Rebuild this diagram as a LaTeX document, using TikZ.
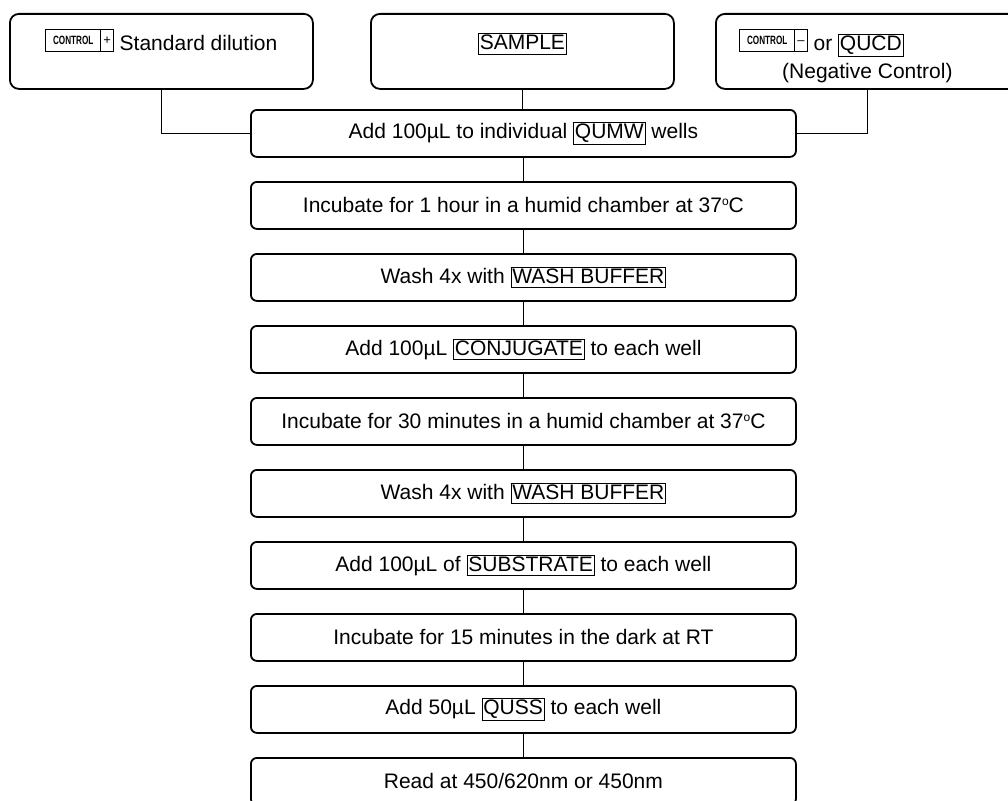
\documentclass[tikz,border=0pt]{standalone}
\usepackage{fontspec}
\setmainfont{Liberation Sans}
\usepackage{graphicx}
\newcommand\kbox[1]{{\fboxsep=1pt\fboxrule=0.8pt\fbox{\rule[-3pt]{0pt}{17pt}#1}}}
\newcommand\ctrlsign[1]{{\fboxsep=0pt\fboxrule=0.8pt\fbox{\makebox[54pt]{\rule{0pt}{21pt}\raisebox{6pt}{\fontsize{12}{12}\selectfont\bfseries\scalebox{0.68}[1]{CONTROL}}}\vrule width 0.8pt\makebox[12pt]{\raisebox{6pt}{\fontsize{13}{13}\selectfont #1}}}}}
\newcommand\dego{\raisebox{7pt}{\fontsize{12}{12}\selectfont o}}
\begin{document}
\begin{tikzpicture}[x=1pt,y=-1pt,
  stepbox/.style={draw, line width=1.8pt, rounded corners=6pt, minimum width=545pt, minimum height=47pt, inner sep=0pt, anchor=north west, font=\fontsize{21}{25}\selectfont},
  srcbox/.style={draw, line width=1.8pt, rounded corners=9pt, minimum width=303pt, minimum height=75pt, inner sep=0pt, anchor=north west, font=\fontsize{21}{25}\selectfont},
  link/.style={line width=1.7pt}]
\useasboundingbox (0,0) rectangle (1008,800);
\clip (0,0) rectangle (1008,800);

\node[srcbox] (src1) at (9,13) {\parbox[c][75pt][t]{300pt}{\centering\rule{0pt}{37pt}\ctrlsign{+} Standard dilution}};
\node[srcbox] (src2) at (370,13) {\parbox[c][75pt][t]{300pt}{\centering\rule{0pt}{36pt}\kbox{SAMPLE}}};
\node[srcbox] (src3) at (715,13) {\parbox[c][75pt][t]{300pt}{\centering\rule{0pt}{37pt}\makebox[256pt][l]{\ctrlsign{–} or \kbox{QUCD}}\\[3pt](Negative Control)}};

\node[stepbox] (s1) at (250,109) {Add 100µL to individual \kbox{QUMW} wells};
\node[stepbox] (s2) at (250,181) {Incubate for 1 hour in a humid chamber at 37\dego C};
\node[stepbox] (s3) at (250,253) {Wash 4x with \kbox{WASH BUFFER}};
\node[stepbox] (s4) at (250,325) {Add 100µL \kbox{CONJUGATE} to each well};
\node[stepbox] (s5) at (250,397) {Incubate for 30 minutes in a humid chamber at 37\dego C};
\node[stepbox] (s6) at (250,469) {Wash 4x with \kbox{WASH BUFFER}};
\node[stepbox] (s7) at (250,541) {Add 100µL of \kbox{SUBSTRATE} to each well};
\node[stepbox] (s8) at (250,613) {Incubate for 15 minutes in the dark at RT};
\node[stepbox] (s9) at (250,685) {Add 50µL \kbox{QUSS} to each well};
\node[stepbox] (s10) at (250,757) {Read at 450/620nm or 450nm};

\draw[link] (src1.south) |- (s1.west);
\draw[link] (src2.south) -- (src2.south |- s1.north);
\draw[link] (src3.south) |- (s1.east);
\foreach \a/\b in {s1/s2,s2/s3,s3/s4,s4/s5,s5/s6,s6/s7,s7/s8,s8/s9,s9/s10}
  \draw[link] (\a.south) -- (\b.north);
\end{tikzpicture}
\end{document}
